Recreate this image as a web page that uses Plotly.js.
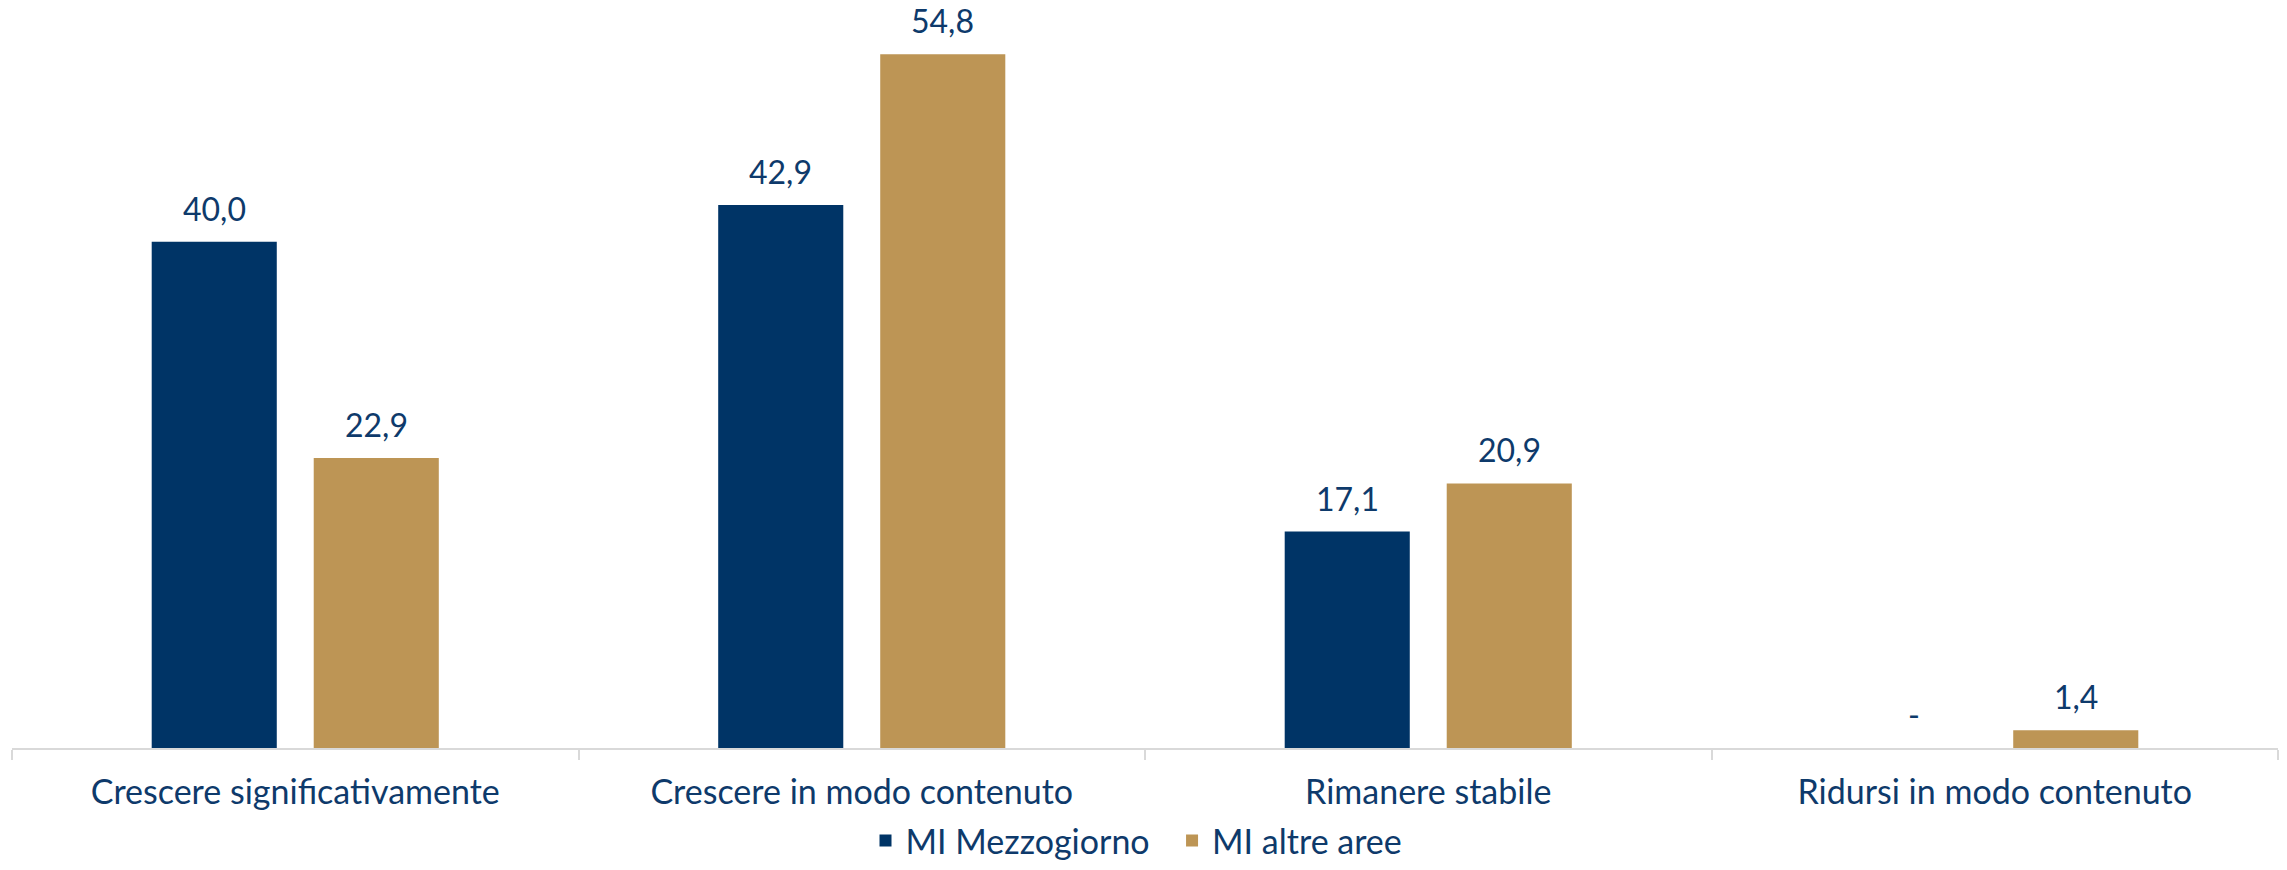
<!DOCTYPE html>
<html>
<head>
<meta charset="utf-8">
<script src="https://cdn.plot.ly/plotly-3.0.1.min.js"></script>
<style>html,body{margin:0;padding:0;background:#fff;}#chart{width:2287px;height:870px;}</style>
</head>
<body>
<div id="chart"></div>
<script>
const categories = ["Crescere significativamente", "Crescere in modo contenuto", "Rimanere stabile", "Ridursi in modo contenuto"];
const seriesNames = ["MI Mezzogiorno", "MI altre aree"];
const mezzogiorno = [40.0, 42.9, 17.1, 0];
const altreAree = [22.9, 54.8, 20.9, 1.4];

const colors = ["#003466", "#BD9555"];
const textColor = "#0E3A6B";
const fontFamily = "Lato, 'Open Sans', sans-serif";
const series = [mezzogiorno, altreAree];

function fmt(v) { return v === 0 ? "-" : v.toFixed(1).replace(".", ","); }

const traces = series.map((vals, i) => ({
  type: "bar",
  name: seriesNames[i] + "  ",
  x: categories,
  y: vals,
  marker: { color: colors[i] },
  hoverinfo: "skip"
}));

const annotations = [];
series.forEach((vals, i) => {
  vals.forEach((v, j) => {
    annotations.push({
      x: categories[j], y: v, xref: "x", yref: "y",
      xshift: (i === 0 ? -1 : 1) * 81,
      yshift: 12,
      yanchor: "bottom",
      text: fmt(v),
      showarrow: false,
      font: { family: fontFamily, size: 32, color: textColor, weight: 400 }
    });
  });
});

const layout = {
  width: 2287,
  height: 870,
  margin: { l: 12, r: 9, t: 10, b: 122 },
  paper_bgcolor: "#fff",
  plot_bgcolor: "#fff",
  barmode: "group",
  bargap: 0.428,
  bargroupgap: 0.228,
  font: { family: fontFamily, size: 32, color: textColor, weight: 400 },
  annotations: annotations,
  xaxis: {
    type: "category",
    showline: true,
    linecolor: "#D9D9D9",
    linewidth: 2,
    ticks: "outside",
    tickson: "boundaries",
    ticklen: 10,
    tickcolor: "#D9D9D9",
    tickwidth: 2,
    ticklabelstandoff: 13,
    tickfont: { family: fontFamily, size: 34, color: textColor, weight: 400 },
    showgrid: false,
    zeroline: false
  },
  yaxis: {
    range: [0, 58.3],
    visible: false,
    showgrid: false,
    zeroline: false
  },
  showlegend: true,
  legend: {
    orientation: "h",
    x: 0.5,
    xanchor: "center",
    xref: "paper",
    yref: "container",
    y: 0.0,
    yanchor: "bottom",
    font: { family: fontFamily, size: 34, color: textColor, weight: 400 },
    itemwidth: 30,
    traceorder: "normal"
  }
};

Plotly.newPlot("chart", traces, layout, { displayModeBar: false, staticPlot: true });
</script>
</body>
</html>
